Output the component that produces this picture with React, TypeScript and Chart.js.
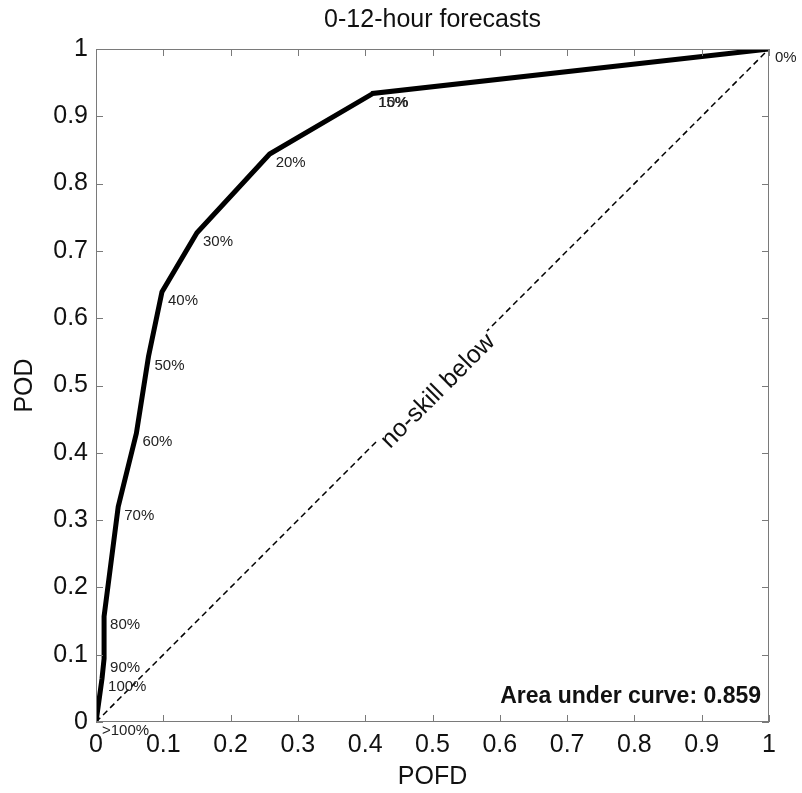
import React, { useEffect, useRef } from "react";
import { Chart, registerables } from "chart.js";

Chart.register(...registerables);

const FONT = "'Liberation Sans', Arial, Helvetica, sans-serif";

const thresholdLabels = [">100%", "100%", "90%", "80%", "70%", "60%", "50%", "40%", "30%", "20%", "15%", "10%", "0%"];
const pofdValues = [0, 0.009, 0.012, 0.012, 0.033, 0.060, 0.078, 0.098, 0.150, 0.258, 0.410, 0.411, 1];
const podValues = [0, 0.065, 0.094, 0.157, 0.320, 0.429, 0.543, 0.639, 0.727, 0.844, 0.933, 0.934, 1];
const noSkillX = [0, 1];
const noSkillY = [0, 1];
const tickValues = [0, 0.1, 0.2, 0.3, 0.4, 0.5, 0.6, 0.7, 0.8, 0.9, 1];
const tickLabels = ["0", "0.1", "0.2", "0.3", "0.4", "0.5", "0.6", "0.7", "0.8", "0.9", "1"];
const chartTitle = "0-12-hour forecasts";
const xTitle = "POFD";
const yTitle = "POD";
const aucText = "Area under curve: 0.859";
const noSkillText = "no-skill below";

const decorPlugin = {
  id: "decor",
  afterDraw(chart: any) {
    const ctx = chart.ctx as CanvasRenderingContext2D;
    const { left, right, top, bottom } = chart.chartArea;
    const xs = chart.scales.x;
    const ys = chart.scales.y;
    ctx.save();
    // box
    ctx.strokeStyle = "#7a7a7a";
    ctx.lineWidth = 1;
    ctx.strokeRect(left + 0.5, top + 0.5, right - left - 1, bottom - top - 1);
    // inward ticks
    const tl = 7;
    ctx.beginPath();
    tickValues.forEach((v) => {
      const px = Math.round(xs.getPixelForValue(v)) + 0.5;
      ctx.moveTo(px, bottom);
      ctx.lineTo(px, bottom - tl);
      ctx.moveTo(px, top);
      ctx.lineTo(px, top + tl);
      const py = Math.round(ys.getPixelForValue(v)) + 0.5;
      ctx.moveTo(left, py);
      ctx.lineTo(left + tl, py);
      ctx.moveTo(right, py);
      ctx.lineTo(right - tl, py);
    });
    ctx.stroke();

    // threshold labels
    ctx.fillStyle = "#222";
    ctx.font = `15px ${FONT}`;
    ctx.textAlign = "left";
    ctx.textBaseline = "middle";
    thresholdLabels.forEach((lab, i) => {
      const px = xs.getPixelForValue(pofdValues[i]);
      const py = ys.getPixelForValue(podValues[i]);
      ctx.fillText(lab, px + 6, py + 9);
    });

    // no-skill text
    const cx = xs.getPixelForValue(0.5) + 5;
    const cy = ys.getPixelForValue(0.5) + 5;
    ctx.translate(cx, cy);
    ctx.rotate(-Math.PI / 4);
    ctx.font = `25px ${FONT}`;
    const w = ctx.measureText(noSkillText).width;
    ctx.fillStyle = "#fff";
    ctx.fillRect(-w / 2 - 2, -14, w + 4, 28);
    ctx.fillStyle = "#111";
    ctx.textAlign = "center";
    ctx.textBaseline = "middle";
    ctx.fillText(noSkillText, 0, 1);
    ctx.setTransform(1, 0, 0, 1, 0, 0);

    // AUC
    ctx.font = `bold 23px ${FONT}`;
    ctx.textAlign = "right";
    ctx.textBaseline = "middle";
    ctx.fillStyle = "#111";
    ctx.fillText(aucText, right - 8, 697);

    // titles
    ctx.font = `25px ${FONT}`;
    ctx.textAlign = "center";
    ctx.fillText(chartTitle, (left + right) / 2, 20);
    ctx.fillText(xTitle, (left + right) / 2, 777);
    ctx.translate(25, (top + bottom) / 2);
    ctx.rotate(-Math.PI / 2);
    ctx.fillText(yTitle, 0, 0);
    ctx.restore();
  },
};

export default function App() {
  const ref = useRef<HTMLCanvasElement | null>(null);
  useEffect(() => {
    if (!ref.current) return;
    const curve = pofdValues.map((x, i) => ({ x, y: podValues[i] }));
    const diag = noSkillX.map((x, i) => ({ x, y: noSkillY[i] }));
    const tickOpts = {
      font: { size: 25, family: FONT },
      color: "#111",
      padding: 8,
      autoSkip: false,
      maxRotation: 0,
      callback: (v: any) => {
        const idx = tickValues.findIndex((t) => Math.abs(t - v) < 1e-6);
        return idx >= 0 ? tickLabels[idx] : "";
      },
    };
    const chart = new Chart(ref.current, {
      type: "scatter",
      data: {
        datasets: [
          {
            data: curve,
            showLine: true,
            borderColor: "#000",
            borderWidth: 5,
            pointRadius: 0,
            borderJoinStyle: "miter",
          } as any,
          {
            data: diag,
            showLine: true,
            borderColor: "#000",
            borderWidth: 1.5,
            borderDash: [6, 4],
            pointRadius: 0,
          } as any,
        ],
      },
      options: {
        responsive: false,
        animation: false,
        layout: { padding: { top: 49, right: 33, bottom: 0, left: 0 } },
        plugins: { legend: { display: false }, tooltip: { enabled: false }, title: { display: false } },
        scales: {
          x: {
            type: "linear",
            min: 0,
            max: 1,
            afterBuildTicks: (s: any) => {
              s.ticks = tickValues.map((v) => ({ value: v }));
            },
            ticks: tickOpts as any,
            grid: { display: false, drawTicks: false },
            border: { display: false },
            afterFit: (s: any) => {
              s.height = 71;
            },
          },
          y: {
            type: "linear",
            min: 0,
            max: 1,
            afterBuildTicks: (s: any) => {
              s.ticks = tickValues.map((v) => ({ value: v }));
            },
            ticks: tickOpts as any,
            grid: { display: false, drawTicks: false },
            border: { display: false },
            afterFit: (s: any) => {
              s.width = 96;
            },
          },
        },
      },
      plugins: [decorPlugin],
    });
    return () => chart.destroy();
  }, []);
  return (
    <div style={{ position: "absolute", left: 0, top: 0, width: 802, height: 793, background: "#fff" }}>
      <canvas ref={ref} width={802} height={793} style={{ display: "block" }} />
    </div>
  );
}
